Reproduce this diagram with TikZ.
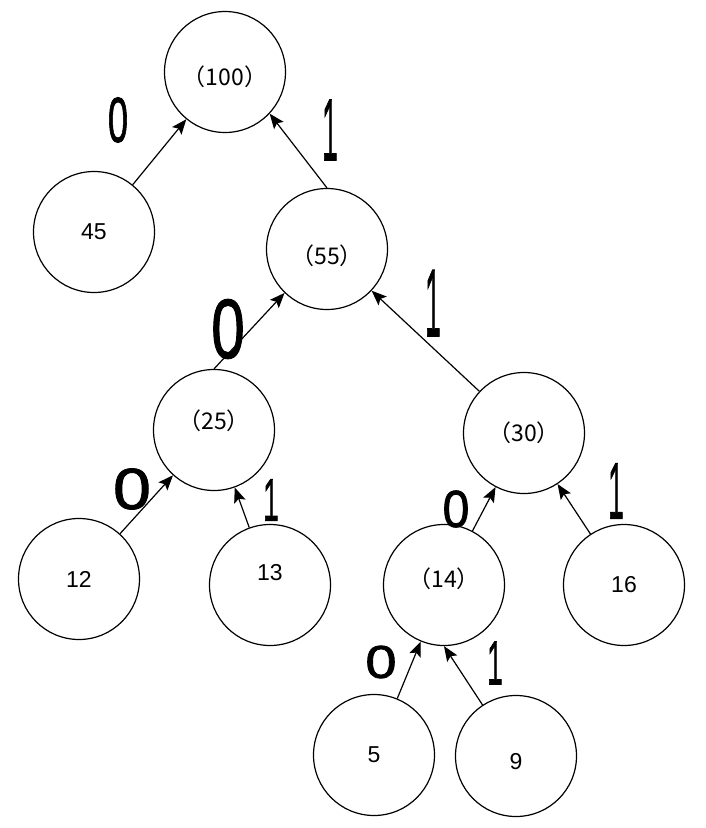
\documentclass[tikz,border=0pt]{standalone}
\usepackage{fontspec}
\setmainfont{Liberation Sans}
\newfontfamily\cjk{Noto Sans CJK SC}
\newfontfamily\bitfont{Liberation Sans}[FakeBold=1.5]
\usepackage{tikz}
\usetikzlibrary{arrows.meta,shapes}

\newcommand\nudge[2]{\raisebox{#1}[\height][\depth]{#2}}
\tikzset{
    weight/.style={draw, circle, inner sep=0pt, minimum size=121pt, line width=1.2pt,
                   font=\fontsize{23}{23}\selectfont},
    arc/.style={-{Stealth[length=15pt,width=12pt,inset=3pt]}, line width=1.2pt},
    bit/.style={font=\bitfont\fontsize{40}{40}\selectfont, inner sep=0pt, transform shape}}

\begin{document}
\begin{tikzpicture}[x=1pt,y=-1pt]
    \useasboundingbox (0,0) rectangle (706,828);
    \node[weight] (v100) at (225,72) {\nudge{-5pt}{\cjk{（}100\cjk{）}}};
    \node[weight] (v45) at (94,232) {45};
    \node[weight] (v55) at (327,249) {\nudge{-7pt}{\cjk{（}55\cjk{）}}};
    \node[weight] (v25) at (214,430) {\nudge{9pt}{\cjk{（}25\cjk{）}}};
    \node[weight] (v30) at (524,433) {\cjk{（}30\cjk{）}};
    \node[weight] (v12) at (79,579) {12};
    \node[weight] (v13) at (270,585) {\nudge{12pt}{13}};
    \node[weight] (v14) at (444,585) {\nudge{6pt}{\cjk{（}14\cjk{）}}};
    \node[weight] (v16) at (624,585) {16};
    \node[weight] (v5) at (374,755) {5};
    \node[weight] (v9) at (516,756) {\nudge{-6pt}{9}};

    \draw[arc] (v45) -- (v100);
    \draw[arc] (v55.north) -- (v100.-43);
    \draw[arc] (v25.north) -- (v55.226);
    \draw[arc] (v30) -- (v55);
    \draw[arc] (v12) -- (v25);
    \draw[arc] (v13) -- (v25);
    \draw[arc] (v14) -- (v30);
    \draw[arc] (v16) -- (v30);
    \draw[arc] (v5) -- (v14);
    \draw[arc] (v9) -- (v14.south);

    % bits on the edges
    \node[bit,xscale=.9,yscale=1.6] (b45) at (118,120) {0};
    \node[bit,xscale=.7,yscale=2.2] (b55) at (330,130) {1};
    \node[bit,xscale=1.5,yscale=2.1] (b25) at (228,329) {0};
    \node[bit,xscale=.7,yscale=2.4] (b30) at (433,303) {1};
    \node[bit,xscale=1.7,yscale=1.45] (b12) at (132,489) {0};
    \node[bit,xscale=.7,yscale=1.5] (b13) at (271,500) {1};
    \node[bit,xscale=1.2,yscale=1.3] (b14) at (456,509) {0};
    \node[bit,xscale=.7,yscale=2] (b16) at (616,491) {1};
    \node[bit,xscale=1.4,yscale=1.15] (b5) at (381,662) {0};
    \node[bit,xscale=.7,yscale=1.55] (b9) at (495,663) {1};
\end{tikzpicture}
\end{document}
